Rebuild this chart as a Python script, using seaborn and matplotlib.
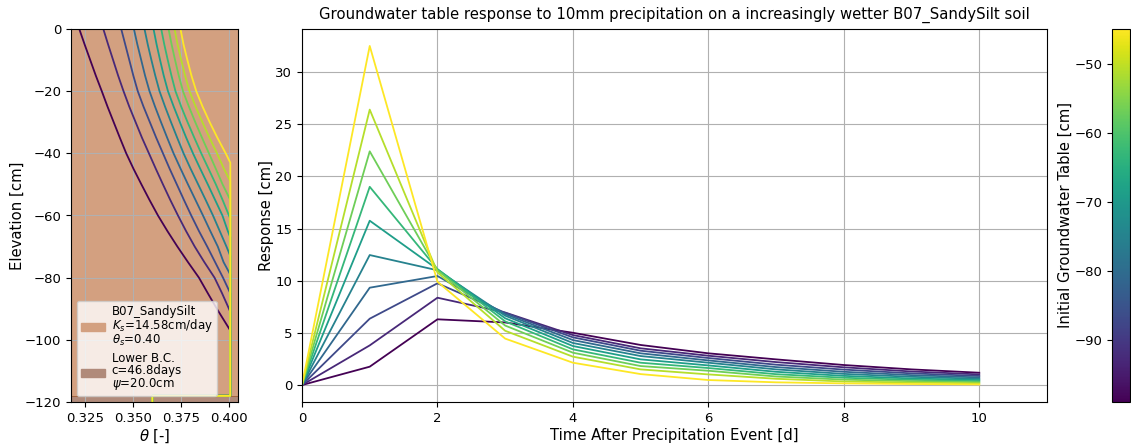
import numpy as np
import pandas as pd
import matplotlib
matplotlib.use("Agg")
import matplotlib.pyplot as plt
from matplotlib.patches import Patch
import seaborn as sns

# ---------------- data ----------------
init_gwt = [-99, -93, -87, -81, -75, -69, -63, -57, -51, -45]   # colour values [cm]
days = [0, 1, 2, 3, 4, 5, 6, 7, 8, 9, 10]
response = [
    [0, 1.76, 6.30, 6.00, 5.01, 3.84, 3.04, 2.46, 1.92, 1.50, 1.18],
    [0, 3.80, 8.37, 6.95, 4.79, 3.52, 2.81, 2.20, 1.70, 1.30, 1.02],
    [0, 6.36, 9.75, 6.92, 4.57, 3.29, 2.59, 1.95, 1.48, 1.12, 0.87],
    [0, 9.33, 10.45, 6.80, 4.31, 3.04, 2.36, 1.72, 1.27, 0.95, 0.73],
    [0, 12.46, 11.00, 6.65, 4.03, 2.78, 2.14, 1.50, 1.07, 0.79, 0.60],
    [0, 15.75, 11.10, 6.40, 3.74, 2.46, 1.88, 1.27, 0.88, 0.63, 0.48],
    [0, 19.00, 11.10, 6.10, 3.42, 2.14, 1.63, 1.04, 0.70, 0.50, 0.37],
    [0, 22.40, 11.00, 5.70, 3.10, 1.82, 1.37, 0.82, 0.52, 0.37, 0.27],
    [0, 26.40, 10.80, 5.20, 2.72, 1.50, 1.02, 0.60, 0.34, 0.24, 0.16],
    [0, 32.50, 9.90, 4.45, 2.14, 1.05, 0.48, 0.26, 0.16, 0.10, 0.06],
]

# moisture profiles (left panel)
elev_grid = [0, -5, -10, -15, -20, -25, -30, -35, -40, -45, -50, -55, -60, -65,
             -70, -75, -80, -85, -90, -95]
wt_elev = [-97, -91, -85, -79, -73, -67, -61, -55, -49, -43]   # where theta reaches theta_s
theta_above_wt = [
    [.3220, .3248, .3277, .3306, .3337, .3367, .3399, .3431, .3464, .3502, .3543, .3585,
     .3629, .3678, .3730, .3785, .3842, .3888, .3935, .3985],
    [.3345, .3370, .3396, .3422, .3450, .3480, .3513, .3546, .3582, .3618, .3655, .3693,
     .3733, .3775, .3820, .3870, .3923, .3962, .3998],
    [.3438, .3459, .3480, .3501, .3524, .3554, .3587, .3620, .3655, .3690, .3727, .3764,
     .3802, .3842, .3885, .3926, .3967],
    [.3504, .3522, .3542, .3562, .3585, .3614, .3645, .3677, .3710, .3747, .3785, .3824,
     .3863, .3901, .3940, .3970],
    [.3559, .3576, .3595, .3615, .3637, .3666, .3697, .3729, .3762, .3799, .3838, .3877,
     .3915, .3950, .3985],
    [.3606, .3622, .3640, .3659, .3681, .3711, .3743, .3776, .3811, .3849, .3888, .3926,
     .3964, .3992],
    [.3646, .3662, .3680, .3699, .3720, .3750, .3783, .3818, .3854, .3892, .3930, .3965,
     .3998],
    [.3684, .3700, .3718, .3737, .3759, .3790, .3823, .3858, .3894, .3930, .3965],
    [.3715, .3731, .3750, .3770, .3793, .3825, .3860, .3897, .3936, .3972],
    [.3746, .3762, .3782, .3803, .3828, .3861, .3898, .3938, .3981],
]
theta_sat = 0.4005
bc_top, bc_bottom, bc_theta = -118, -120, 0.3600

soil_name = "B07_SandySilt"
ks_label = "$K_s$=14.58cm/day"
ths_label = r"$\theta_s$=0.40"
bc_label = "Lower B.C.\nc=46.8days\n$\\psi$=20.0cm"
title = "Groundwater table response to 10mm precipitation on a increasingly wetter B07_SandySilt soil"

# ---------------- frames ----------------
resp_df = pd.DataFrame([
    {"gwt": g, "day": d, "resp": r}
    for g, row in zip(init_gwt, response) for d, r in zip(days, row)
])
rows = []
for g, wt, th in zip(init_gwt, wt_elev, theta_above_wt):
    pts = list(zip(th, elev_grid[:len(th)]))
    pts += [(theta_sat, wt), (theta_sat, bc_top), (bc_theta, bc_top), (bc_theta, bc_bottom)]
    for i, (t, e) in enumerate(pts):
        rows.append({"gwt": g, "order": i, "theta": t, "elev": e})
prof_df = pd.DataFrame(rows)

# ---------------- figure ----------------
plt.rcParams["font.family"] = ["DejaVu Sans"]
plt.rcParams["font.size"] = 10
plt.rcParams["xtick.labelsize"] = 9.5
plt.rcParams["ytick.labelsize"] = 9.5
plt.rcParams["axes.grid"] = True
plt.rcParams["grid.color"] = "#b0b0b0"
plt.rcParams["grid.linewidth"] = 0.8

LAB = 10.7
W, H = 1131, 444
fig = plt.figure(figsize=(W / 100, H / 100), dpi=100)
ax_l = fig.add_axes([71 / W, 1 - 402 / H, 167 / W, 373 / H])
ax_r = fig.add_axes([302 / W, 1 - 402 / H, 745 / W, 373 / H])
cax = fig.add_axes([1112 / W, 1 - 402 / H, 18 / W, 373 / H])

cmap = plt.get_cmap("viridis")
norm = matplotlib.colors.Normalize(vmin=min(init_gwt), vmax=max(init_gwt))

soil_col = "#d3a080"
bc_col = "#b08a7a"

# left panel
ax_l.axhspan(bc_top, 0, color=soil_col, lw=0)
ax_l.axhspan(bc_bottom, bc_top, color=bc_col, lw=0)
ax_l.axhline(bc_top, color="#a0603a", lw=0.6)
sns.lineplot(data=prof_df, x="theta", y="elev", hue="gwt", units="gwt",
             estimator=None, sort=False, palette=cmap, hue_norm=norm,
             lw=1.3, legend=False, ax=ax_l)
ax_l.set_ylim(-120, 0)
ax_l.set_xlim(0.3177, 0.4045)
ax_l.set_xticks([0.325, 0.350, 0.375, 0.400])
ax_l.set_xlabel(r"$\theta$ [-]", fontsize=LAB, labelpad=2)
ax_l.set_ylabel("Elevation [cm]", fontsize=LAB, labelpad=0)
handles = [Patch(color=soil_col, label=soil_name + "\n" + ks_label + "\n" + ths_label),
           Patch(color=bc_col, label=bc_label)]
leg = ax_l.legend(handles=handles, loc="lower left", fontsize=8.5, framealpha=0.8,
                  labelspacing=0.3, borderpad=0.35, handletextpad=0.6)
for t in leg.get_texts():
    t.set_linespacing(0.92)

# right panel
sns.lineplot(data=resp_df, x="day", y="resp", hue="gwt", palette=cmap,
             hue_norm=norm, lw=1.3, legend=False, ax=ax_r)
ax_r.set_xlim(0, 11)
ax_r.set_xlabel("Time After Precipitation Event [d]", fontsize=LAB, labelpad=2)
ax_r.set_ylabel("Response [cm]", fontsize=LAB, labelpad=1)
ax_r.set_title(title, fontsize=LAB, pad=7)

# colorbar
sm = matplotlib.cm.ScalarMappable(norm=norm, cmap=cmap)
cb = fig.colorbar(sm, cax=cax)
cax.grid(False)
cb.ax.yaxis.set_ticks_position("left")
cb.ax.yaxis.set_label_position("left")
cb.set_label("Initial Groundwater Table [cm]", fontsize=LAB, labelpad=1)
cb.outline.set_linewidth(0.8)

fig.savefig("out.png", dpi=100)
